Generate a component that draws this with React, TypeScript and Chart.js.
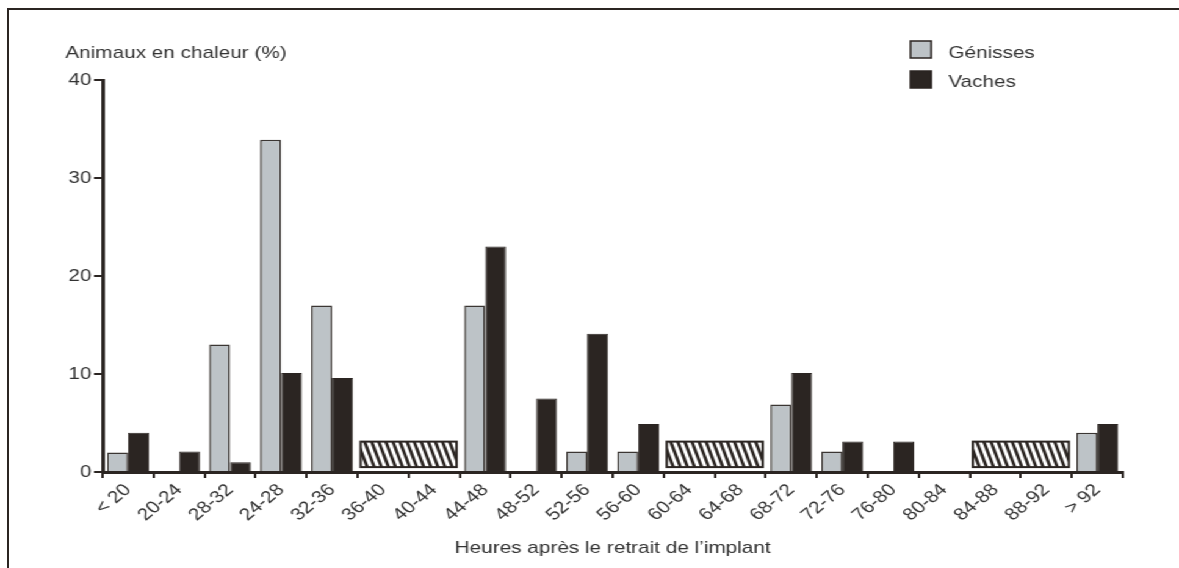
import React, { useEffect, useRef } from "react";
import { Chart, registerables } from "chart.js";

Chart.register(...registerables);

// ---- data ----
const categories = [
  "< 20", "20-24", "28-32", "24-28", "32-36", "36-40", "40-44", "44-48", "48-52", "52-56",
  "56-60", "60-64", "64-68", "68-72", "72-76", "76-80", "80-84", "84-88", "88-92", "> 92",
];
const genisses = [2, 0, 13, 33.9, 17, null, null, 17, 0, 2.1, 2.1, null, null, 6.9, 2.1, 0, 0, null, null, 4];
const vaches = [4, 2.1, 1, 10.1, 9.6, null, null, 23, 7.5, 14.1, 4.9, null, null, 10.1, 3.1, 3.1, 0, null, null, 4.9];
const hatchStart = ["36-40", "60-64", "84-88"];
const hatchEnd = ["40-44", "64-68", "88-92"];
const hatchLow = 0.5;
const hatchHigh = 3.1;
const yTitle = "Animaux en chaleur (%)";
const xTitle = "Heures après le retrait de l’implant";
const seriesNames = ["Génisses", "Vaches"];

const W = 966;
const H = 568;
const S = 1179 / W;
const FONT = "'Liberation Sans', Arial, sans-serif";
const INK = "#2b2522";
const TEXT = "#333333";
const GREY = "#bdc3c7";

const decor = {
  id: "decor",
  afterDatasetsDraw(chart: any) {
    const { ctx, scales } = chart;
    const x = scales.x;
    const y = scales.y;
    const half = (x.getPixelForValue(1) - x.getPixelForValue(0)) / 2;
    for (let k = 0; k < hatchStart.length; k++) {
      const i0 = categories.indexOf(hatchStart[k]);
      const i1 = categories.indexOf(hatchEnd[k]);
      const left = x.getPixelForValue(i0) - half + 2.5;
      const right = x.getPixelForValue(i1) + half - 2.5;
      const top = y.getPixelForValue(hatchHigh);
      const bottom = y.getPixelForValue(hatchLow);
      ctx.save();
      ctx.beginPath();
      ctx.rect(left, top, right - left, bottom - top);
      ctx.fillStyle = "#ffffff";
      ctx.fill();
      ctx.clip();
      ctx.strokeStyle = INK;
      ctx.lineWidth = 2.6;
      for (let sx = left - 20; sx < right + 20; sx += 5.8) {
        ctx.beginPath();
        ctx.moveTo(sx, top);
        ctx.lineTo(sx + 8, bottom);
        ctx.stroke();
      }
      ctx.restore();
      ctx.save();
      ctx.strokeStyle = INK;
      ctx.lineWidth = 2;
      ctx.strokeRect(left, top, right - left, bottom - top);
      ctx.restore();
    }
  },
  afterDraw(chart: any) {
    const { ctx, chartArea } = chart;
    ctx.save();
    ctx.font = `17px ${FONT}`;
    ctx.fillStyle = TEXT;
    ctx.textBaseline = "alphabetic";
    // y title
    ctx.textAlign = "left";
    ctx.fillText(yTitle, chartArea.left - 30.5, 58);
    // x title
    ctx.textAlign = "center";
    ctx.fillText(xTitle, (chartArea.left + chartArea.right) / 2, 553);
    // legend
    const bx = chartArea.right - 174;
    const fills = [GREY, INK];
    const rows = [41, 71];
    const bases = [57.5, 87];
    for (let i = 0; i < 2; i++) {
      ctx.fillStyle = fills[i];
      ctx.fillRect(bx, rows[i], 17, 17);
      ctx.strokeStyle = INK;
      ctx.lineWidth = 1.5;
      ctx.strokeRect(bx, rows[i], 17, 17);
      ctx.fillStyle = TEXT;
      ctx.textAlign = "left";
      ctx.fillText(seriesNames[i], bx + 31, bases[i]);
    }
    ctx.restore();
  },
};

export default function App() {
  const ref = useRef<HTMLCanvasElement | null>(null);
  useEffect(() => {
    if (!ref.current) return;
    const chart = new Chart(ref.current, {
      type: "bar",
      data: {
        labels: categories,
        datasets: [
          {
            label: seriesNames[0],
            data: genisses,
            backgroundColor: GREY,
            borderColor: "#3b3633",
            borderWidth: 1.5,
          },
          {
            label: seriesNames[1],
            data: vaches,
            backgroundColor: INK,
            borderColor: INK,
            borderWidth: 1,
          },
        ],
      },
      options: {
        animation: false,
        responsive: false,
        devicePixelRatio: 1,
        layout: { padding: { left: 0, right: 46, top: 80, bottom: 0 } },
        datasets: { bar: { categoryPercentage: 0.82, barPercentage: 1 } },
        plugins: {
          legend: { display: false },
          tooltip: { enabled: false },
          title: { display: false },
        },
        scales: {
          x: {
            offset: true,
            grid: {
              display: true,
              offset: true,
              drawOnChartArea: false,
              drawTicks: true,
              tickLength: 6,
              lineWidth: 2,
              color: INK,
            },
            border: { display: true, width: 3, color: INK, z: 1 },
            ticks: {
              autoSkip: false,
              minRotation: 45,
              maxRotation: 45,
              padding: 2,
              color: TEXT,
              font: { family: FONT, size: 17 },
            },
            afterFit: (s: any) => {
              s.height = 96;
            },
          },
          y: {
            min: 0,
            max: 40,
            grid: {
              drawOnChartArea: false,
              drawTicks: true,
              tickLength: 7,
              lineWidth: 2,
              color: INK,
            },
            border: { display: true, width: 3, color: INK, z: 1 },
            ticks: {
              stepSize: 10,
              padding: 2,
              color: TEXT,
              font: { family: FONT, size: 17 },
            },
            afterFit: (s: any) => {
              s.width = 84;
            },
          },
        },
      },
      plugins: [decor],
    });
    return () => chart.destroy();
  }, []);

  return (
    <div>
      <div
        style={{
          position: "absolute",
          left: 0,
          top: 0,
          width: W,
          height: H,
          transform: `scaleX(${S})`,
          transformOrigin: "0 0",
          background: "#ffffff",
        }}
      >
        <canvas ref={ref} width={W} height={H} />
      </div>
      <div
        style={{
          position: "absolute",
          left: 7,
          top: 8,
          width: 1172,
          height: 560,
          borderTop: `2px solid ${INK}`,
          borderLeft: `2px solid ${INK}`,
          pointerEvents: "none",
        }}
      />
    </div>
  );
}
